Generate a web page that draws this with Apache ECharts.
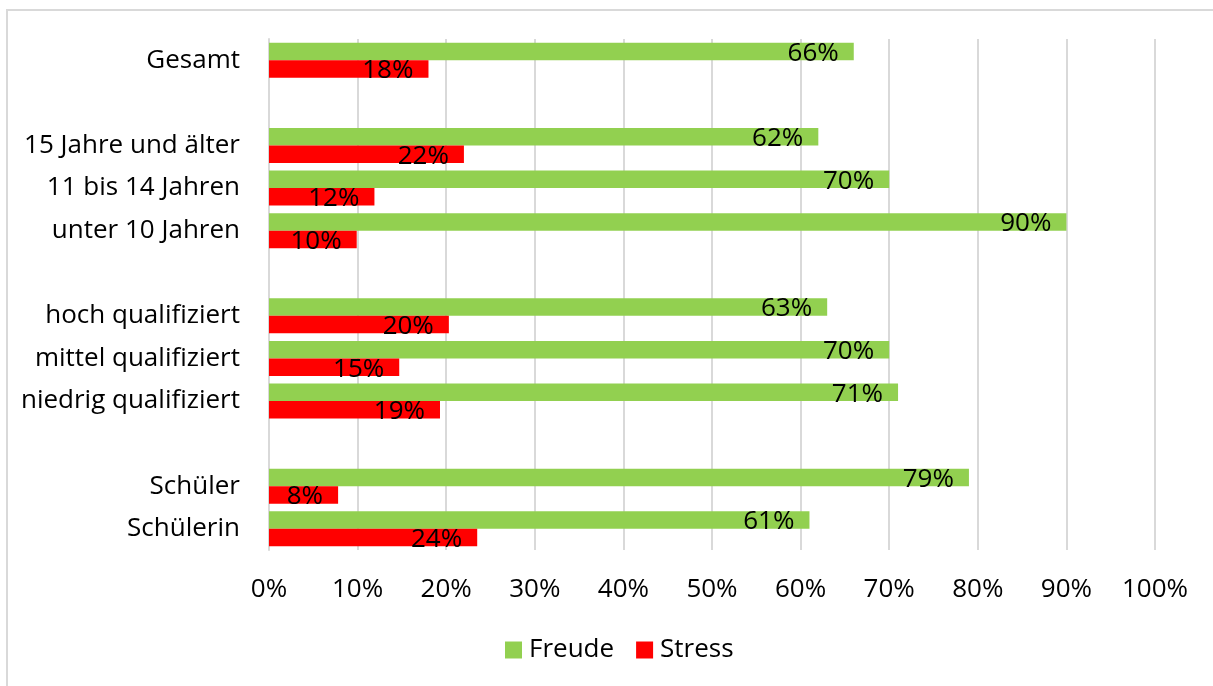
<!DOCTYPE html>
<html>
<head>
<meta charset="utf-8">
<script src="https://cdn.jsdelivr.net/npm/echarts@6/dist/echarts.min.js"></script>
<style>
html,body{margin:0;padding:0;background:#fff;}
#c{width:1213px;height:686px;}
</style>
</head>
<body>
<div id="c"></div>
<script>
const categories = ['Gesamt', '', '15 Jahre und älter', '11 bis 14 Jahren', 'unter 10 Jahren', '', 'hoch qualifiziert', 'mittel qualifiziert', 'niedrig qualifiziert', '', 'Schüler', 'Schülerin'];
const freude = [66, null, 62, 70, 90, null, 63, 70, 71, null, 79, 61];
const stress = [18, null, 22, 11.9, 9.9, null, 20.3, 14.7, 19.3, null, 7.8, 23.5];
const xTicks = [0, 10, 20, 30, 40, 50, 60, 70, 80, 90, 100];

const FONT = '"Open Sans", sans-serif';
const FS = 26;
const chart = echarts.init(document.getElementById('c'), null, {renderer: 'canvas'});

const labelCfg = {
  show: true,
  position: 'insideRight',
  distance: 15,
  offset: [0, 2],
  fontFamily: FONT,
  fontSize: FS,
  color: '#000',
  formatter: p => (p.value == null ? '' : Math.round(p.value) + '%')
};

chart.setOption({
  animation: false,
  backgroundColor: '#fff',
  textStyle: {fontFamily: FONT},
  graphic: [{
    type: 'rect',
    shape: {x: 7, y: 10, width: 1230, height: 700},
    style: {fill: 'none', stroke: '#d9d9d9', lineWidth: 2},
    silent: true,
    z: -10
  }],
  grid: {left: 269, right: 58, top: 39, bottom: 136, containLabel: false},
  legend: {
    data: ['Freude', 'Stress'],
    left: 500,
    top: 632,
    icon: 'rect',
    itemWidth: 17,
    itemHeight: 17,
    itemGap: 22,
    textStyle: {fontFamily: FONT, fontSize: FS, color: '#000', padding: [0, 0, 0, 2]}
  },
  xAxis: {
    type: 'value',
    min: xTicks[0],
    max: xTicks[xTicks.length - 1],
    interval: 10,
    axisLine: {show: false},
    axisTick: {show: false},
    splitLine: {show: true, lineStyle: {color: '#d9d9d9', width: 2}},
    axisLabel: {
      margin: 27,
      fontFamily: FONT,
      fontSize: FS,
      color: '#000',
      formatter: v => v + '%'
    }
  },
  yAxis: {
    type: 'category',
    inverse: true,
    data: categories,
    axisLine: {show: true, lineStyle: {color: '#d9d9d9', width: 2}},
    axisTick: {show: false},
    splitLine: {show: false},
    axisLabel: {margin: 29, fontFamily: FONT, fontSize: FS, color: '#000', padding: [5, 0, 0, 0]}
  },
  series: [
    {
      name: 'Freude',
      type: 'bar',
      data: freude,
      barWidth: 17.5,
      barGap: '0%',
      itemStyle: {color: '#92D050'},
      label: labelCfg
    },
    {
      name: 'Stress',
      type: 'bar',
      data: stress,
      barWidth: 17.5,
      barGap: '0%',
      itemStyle: {color: '#FF0000'},
      label: labelCfg
    }
  ]
});
</script>
</body>
</html>
